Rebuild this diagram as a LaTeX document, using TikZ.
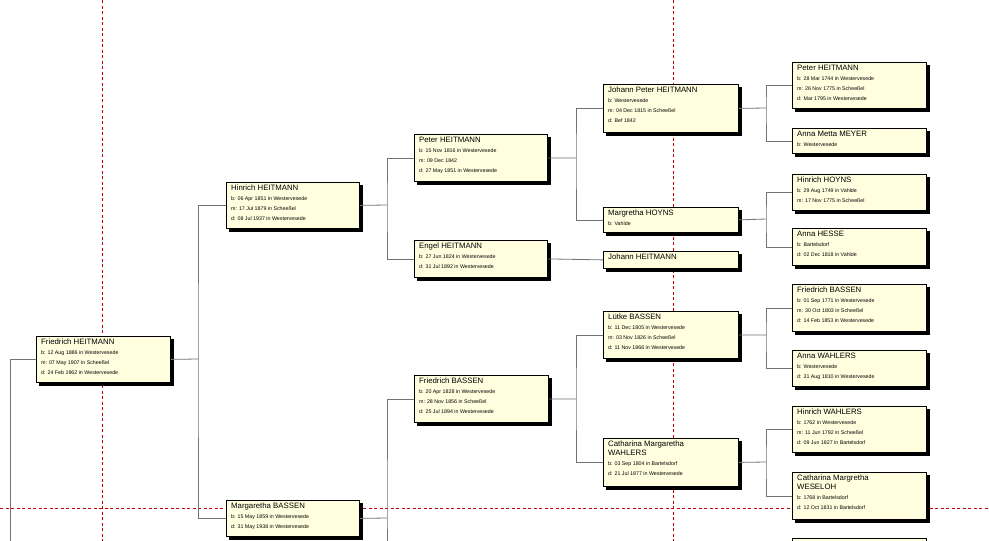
\documentclass[tikz,border=0pt]{standalone}
\usepackage{fontspec}
\setmainfont{Liberation Sans}
\usetikzlibrary{shadows,calc}
\definecolor{boxfill}{HTML}{FFFFE0}
\definecolor{guide}{HTML}{C00000}
\tikzset{
  box/.style={draw=black, line width=0.8pt, fill=boxfill, anchor=north west, inner sep=0pt,
    copy shadow={shadow xshift=3pt, shadow yshift=-3pt, fill=black, draw=black}},
  txt/.style={anchor=north west, inner sep=0pt, align=left, font=\fontsize{5.3}{10}\selectfont},
  conn/.style={draw=black!55, line width=0.8pt},
  guideline/.style={draw=guide, line width=0.6pt, dash pattern=on 3pt off 2.5pt}
}
\newcommand{\nm}[1]{{\fontsize{7.8}{9}\selectfont #1}}
\newcommand{\person}[7]{% name, x, y, w, h, node, text
  \node[box, minimum width=#4pt, minimum height=#5pt] (#6) at (#2,#3) {};
  \node[txt] (#6t) at ($(#6.north west)+(5,3)$) {#7};
}
\begin{document}
\begin{tikzpicture}[x=1pt,y=-1pt]
\fill[white] (0,0) rectangle (989,541);
\useasboundingbox (0,0) rectangle (989,541);
\clip (0,0) rectangle (989,541);
% guides
\draw[guideline] (102,0) -- (102,541);
\draw[guideline] (673,0) -- (673,541);
\draw[guideline] (0,508) -- (989,508);
% connector junctions
\coordinate (j0) at (10,541);
\coordinate (j1) at (198,359);
\coordinate (j2a) at (387,205);
\coordinate (j2b) at (387,518);
\coordinate (j3a) at (576,158);
\coordinate (j3c) at (576,399);
\coordinate (j4a) at (766,108);
\coordinate (j4b) at (766,219);
\coordinate (j4c) at (766,335);
\coordinate (j4d) at (766,462);
\coordinate (jm) at (387,541);

\person{}{36}{336}{134}{46}{fh}{\nm{Friedrich HEITMANN}\\b: 12 Aug 1886 in Westervesede\\m: 07 May 1907 in Scheeßel\\d: 24 Feb 1962 in Westervesede}
\person{}{226}{182}{133}{46}{hh}{\nm{Hinrich HEITMANN}\\b: 06 Apr 1851 in Westervesede\\m: 17 Jul 1879 in Scheeßel\\d: 08 Jul 1937 in Westervesede}
\person{}{226}{500}{133}{36}{mb}{\nm{Margaretha BASSEN}\\b: 15 May 1859 in Westervesede\\d: 31 May 1938 in Westervesede}
\person{}{414}{134}{133}{47}{ph}{\nm{Peter HEITMANN}\\b: 15 Nov 1816 in Westervesede\\m: 09 Dec 1842\\d: 27 May 1851 in Westervesede}
\person{}{414}{240}{133}{37}{eh}{\nm{Engel HEITMANN}\\b: 27 Jun 1824 in Westervesede\\d: 31 Jul 1892 in Westervesede}
\person{}{414}{375}{134}{47}{fb}{\nm{Friedrich BASSEN}\\b: 20 Apr 1828 in Westervesede\\m: 28 Nov 1856 in Scheeßel\\d: 25 Jul 1894 in Westervesede}
\person{}{603}{84}{135}{48}{jph}{\nm{Johann Peter HEITMANN}\\b: Westervesede\\m: 04 Dec 1815 in Scheeßel\\d: Bef 1842}
\person{}{603}{207}{135}{25}{mh}{\nm{Margretha HOYNS}\\b: Vahlde}
\person{}{603}{251}{135}{17}{jh}{\nm{Johann HEITMANN}}
\person{}{603}{311}{135}{47}{lb}{\nm{Lütke BASSEN}\\b: 11 Dec 1805 in Westervesede\\m: 03 Nov 1826 in Scheeßel\\d: 11 Nov 1866 in Westervesede}
\person{}{603}{438}{135}{48}{cw}{\nm{Catharina Margaretha}\\[-1pt]\nm{WAHLERS}\\b: 03 Sep 1804 in Bartelsdorf\\d: 21 Jul 1877 in Westervesede}
\person{}{792}{62}{134}{46}{ph2}{\nm{Peter HEITMANN}\\b: 28 Mar 1744 in Westervesede\\m: 26 Nov 1775 in Scheeßel\\d: Mar 1795 in Westervesede}
\person{}{792}{128}{134}{25}{amm}{\nm{Anna Metta MEYER}\\b: Westervesede}
\person{}{792}{174}{134}{36}{hho}{\nm{Hinrich HOYNS}\\b: 29 Aug 1749 in Vahlde\\m: 17 Nov 1775 in Scheeßel}
\person{}{792}{228}{134}{37}{ahe}{\nm{Anna HESSE}\\b: Bartelsdorf\\d: 02 Dec 1818 in Vahlde}
\person{}{792}{284}{134}{47}{fb2}{\nm{Friedrich BASSEN}\\b: 01 Sep 1771 in Westervesede\\m: 30 Oct 1803 in Scheeßel\\d: 14 Feb 1853 in Westervesede}
\person{}{792}{350}{134}{36}{aw}{\nm{Anna WAHLERS}\\b: Westervesede\\d: 31 Aug 1810 in Westervesede}
\person{}{792}{406}{134}{46}{hw}{\nm{Hinrich WAHLERS}\\b: 1762 in Westervesede\\m: 11 Jun 1792 in Scheeßel\\d: 09 Jun 1827 in Bartelsdorf}
\person{}{792}{472}{134}{47}{cwe}{\nm{Catharina Margretha}\\[-1pt]\nm{WESELOH}\\b: 1768 in Bartelsdorf\\d: 12 Oct 1831 in Bartelsdorf}
\node[box, minimum width=134pt, minimum height=30pt] (nxt) at (792,538) {};

% connectors
\begin{scope}[on background layer/.style={}]
\end{scope}
\draw[conn] (fh.west) -| (j0);
\draw[conn] (fh.east) -- (j1);
\draw[conn] (hh.west) -| (j1) |- (mb.west);
\draw[conn] (hh.east) -- (j2a);
\draw[conn] (ph.west) -| (j2a) |- (eh.west);
\draw[conn] (mb.east) -- (j2b);
\draw[conn] (fb.west) -| (j2b) -- (jm);
\draw[conn] (ph.east) -- (j3a);
\draw[conn] (jph.west) -| (j3a) |- (mh.west);
\draw[conn] (eh.east) -- (jh.west);
\draw[conn] (fb.east) -- (j3c);
\draw[conn] (lb.west) -| (j3c) |- (cw.west);
\draw[conn] (jph.east) -- (j4a);
\draw[conn] (ph2.west) -| (j4a) |- (amm.west);
\draw[conn] (mh.east) -- (j4b);
\draw[conn] (hho.west) -| (j4b) |- (ahe.west);
\draw[conn] (lb.east) -- (j4c);
\draw[conn] (fb2.west) -| (j4c) |- (aw.west);
\draw[conn] (cw.east) -- (j4d);
\draw[conn] (hw.west) -| (j4d) |- (cwe.west);
\end{tikzpicture}
\end{document}
